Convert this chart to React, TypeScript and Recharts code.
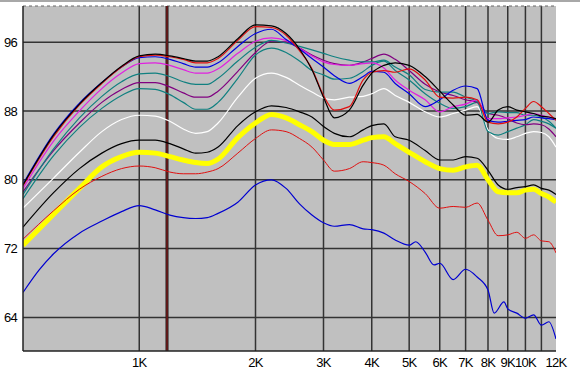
import {
  LineChart,
  Line,
  XAxis,
  YAxis,
  CartesianGrid,
  ReferenceLine,
} from 'recharts'

// frequencies (Hz) shared by most curves
const freqs = [
  500, 600, 700, 800, 900, 1000, 1100, 1200, 1300, 1400, 1500, 1600, 1800, 2000,
  2200, 2400, 2600, 2800, 3000, 3200, 3500, 3800, 4000, 4300, 4600, 5000, 5500,
  6000, 6500, 7000, 7500, 8000, 8500, 9000, 9500, 10000, 10500, 11000, 11500, 12000,
]

const blackTop = [
  79.4, 85.2, 88.8, 91.3, 93.2, 94.4, 94.6, 94.4, 94.1, 93.8, 93.8, 94.3, 96.4, 98.0,
  97.9, 97.0, 95.2, 92.8, 89.6, 87.2, 88.1, 91.0, 92.4, 93.3, 93.6, 93.3, 92.0,
  90.3, 88.7, 87.5, 87.6, 86.7, 88.1, 88.5, 88.1, 87.9, 87.7, 87.4, 87.3, 87.1,
]
const redTop = [
  79.3, 85.0, 88.7, 91.2, 93.1, 94.3, 94.5, 94.3, 94.0, 93.6, 93.6, 94.1, 96.2, 97.8,
  97.7, 96.8, 95.0, 92.9, 89.8, 88.1, 88.5, 91.6, 92.5, 92.7, 92.5, 92.9, 91.6,
  89.6, 89.5, 89.6, 89.3, 86.7, 86.5, 86.7, 87.3, 88.3, 89.1, 88.5, 87.7, 86.9,
]
const blueTop = [
  79.5, 85.3, 88.9, 91.3, 93.1, 94.2, 94.3, 94.0, 93.5, 93.1, 93.1, 93.6, 95.5, 97.0,
  97.5, 96.3, 95.2, 94.1, 93.1, 92.1, 91.2, 92.0, 92.6, 92.5, 91.2, 90.0, 88.5,
  89.3, 90.4, 90.9, 90.6, 86.9, 86.7, 86.8, 86.9, 87.0, 87.3, 87.2, 87.1, 87.0,
]
const magenta = [
  79.0, 84.5, 88.0, 90.6, 92.4, 93.5, 93.6, 93.3, 92.8, 92.4, 92.4, 92.9, 94.7, 96.1,
  96.5, 96.2, 95.3, 94.4, 93.7, 93.4, 93.3, 93.5, 93.6, 93.0, 91.6, 90.4, 89.3,
  87.9, 88.5, 88.8, 89.3, 87.1, 87.1, 87.2, 87.3, 87.5, 87.7, 87.5, 87.3, 87.1,
]
const tealA = [
  78.3, 83.6, 87.2, 89.7, 91.4, 92.3, 92.4, 92.0, 91.4, 91.1, 91.1, 91.8, 93.8, 95.4,
  96.2, 95.9, 95.5, 95.1, 94.7, 94.3, 93.9, 93.7, 93.7, 93.9, 93.1, 92.2, 90.5,
  90.2, 90.2, 89.6, 89.1, 87.7, 87.9, 87.8, 87.8, 87.5, 87.5, 87.3, 86.8, 86.0,
]
const purple = [
  78.6, 83.4, 86.6, 89.0, 90.5, 91.3, 91.3, 90.8, 90.1, 89.6, 89.6, 90.3, 92.6, 94.8,
  96.1, 96.0, 95.3, 94.5, 93.9, 93.5, 93.3, 93.7, 94.1, 94.6, 94.0, 92.7, 91.1,
  90.2, 89.8, 89.3, 89.0, 87.7, 87.5, 87.1, 86.6, 86.4, 86.5, 86.4, 85.9, 85.0,
]
const tealB = [
  77.8, 82.8, 86.1, 88.3, 89.8, 90.6, 90.5, 89.9, 89.0, 88.2, 88.2, 89.0, 91.8, 94.5,
  95.3, 94.8, 93.8, 92.7, 92.2, 91.7, 91.8, 92.6, 93.3, 93.8, 92.7, 91.6, 90.0,
  88.9, 88.3, 88.5, 89.0, 85.6, 85.2, 85.6, 86.0, 86.4, 87.0, 86.8, 86.5, 86.0,
]
const white = [
  76.7, 80.2, 83.2, 85.6, 87.0, 87.5, 87.4, 86.8, 85.9, 85.4, 85.6, 86.6, 89.6, 91.8,
  92.4, 91.9, 91.0, 90.2, 89.5, 89.3, 89.6, 89.7, 90.0, 90.6, 89.8, 89.0, 87.9,
  87.3, 87.7, 88.1, 88.5, 85.8, 84.8, 84.7, 85.0, 85.4, 85.6, 85.5, 85.0, 83.8,
]
const blackMid = [
  74.5, 78.5, 81.3, 83.1, 84.2, 84.6, 84.6, 84.2, 83.6, 83.1, 83.2, 83.8, 86.3, 87.9,
  88.6, 88.4, 87.9, 87.3, 86.2, 85.4, 85.0, 85.8, 86.3, 86.5, 85.0, 84.6, 83.4,
  82.3, 82.3, 82.7, 82.5, 81.1, 79.4, 78.9, 79.1, 79.2, 79.4, 79.0, 78.8, 78.3,
]
const yellow = [
  72.4, 76.0, 79.0, 81.5, 82.7, 83.2, 83.1, 82.7, 82.3, 82.0, 81.9, 82.4, 84.9, 86.6,
  87.6, 87.2, 86.4, 85.6, 84.6, 84.1, 84.1, 84.6, 84.9, 85.0, 84.2, 83.2, 82.1,
  81.3, 81.1, 81.5, 81.7, 80.0, 78.6, 78.5, 78.5, 78.8, 78.9, 78.4, 78.0, 77.4,
]
const redLow = [
  73.1, 76.4, 78.9, 80.4, 81.3, 81.6, 81.4, 80.9, 80.7, 80.7, 80.9, 81.3, 83.1, 84.8,
  85.8, 85.6, 84.8, 83.8, 82.3, 81.0, 81.3, 82.1, 82.0, 81.7, 80.7, 79.8, 78.4,
  76.7, 76.9, 76.8, 77.3, 75.3, 73.5, 73.6, 73.9, 73.2, 73.6, 72.9, 72.8, 71.5,
]

// the lowest blue curve is more jagged, so it has its own frequency list
const blueLowFreqs = [
  500, 550, 600, 700, 800, 900, 1000, 1100, 1200, 1300, 1400, 1500, 1600, 1800, 2000,
  2200, 2400, 2600, 2800, 3000, 3200, 3500, 3800, 4000, 4300, 4600, 5000, 5200, 5500,
  5800, 6000, 6500, 7000, 7500, 8000, 8300, 8800, 9000, 9500, 10000, 10500, 11000,
  11500, 12000,
]
const blueLow = [
  66.9, 69.5, 71.4, 73.8, 75.2, 76.3, 77.0, 76.5, 75.9, 75.6, 75.5, 75.6, 76.1, 77.4,
  79.4, 80.0, 79.0, 77.2, 75.9, 75.0, 74.6, 74.8, 74.3, 74.2, 73.8, 73.0, 72.4, 72.8,
  71.6, 70.1, 70.3, 68.4, 69.6, 68.7, 67.2, 64.5, 65.8, 65.0, 64.5, 63.9, 64.3, 63.1,
  63.5, 61.5,
]

const xTicks = [1000, 2000, 3000, 4000, 5000, 6000, 7000, 8000, 9000, 10000, 11000, 12000]
const gridFreqs = [1000, 2000, 3000, 4000, 5000, 6000, 7000, 8000, 9000, 10000, 11000]
const yTicks = [64, 72, 80, 88, 96]
const markerFreq = 1180

const curves: { name: string; values: number[] }[] = [
  { name: 'yellow', values: yellow },
  { name: 'redLow', values: redLow },
  { name: 'blackMid', values: blackMid },
  { name: 'white', values: white },
  { name: 'tealB', values: tealB },
  { name: 'purple', values: purple },
  { name: 'tealA', values: tealA },
  { name: 'magenta', values: magenta },
  { name: 'blueTop', values: blueTop },
  { name: 'redTop', values: redTop },
  { name: 'blackTop', values: blackTop },
]

const styles: Record<string, { stroke: string; width: number }> = {
  yellow: { stroke: '#ffff00', width: 5 },
  redLow: { stroke: '#e01010', width: 1 },
  blackMid: { stroke: '#000000', width: 1.2 },
  white: { stroke: '#ffffff', width: 1.2 },
  tealB: { stroke: '#108080', width: 1.2 },
  purple: { stroke: '#800080', width: 1.2 },
  tealA: { stroke: '#108080', width: 1.2 },
  magenta: { stroke: '#e020e0', width: 1.2 },
  blueTop: { stroke: '#0000e0', width: 1.2 },
  redTop: { stroke: '#e01010', width: 1.2 },
  blackTop: { stroke: '#000000', width: 1.2 },
}

const data = freqs.map((f, i) => {
  const row: Record<string, number> = { f }
  curves.forEach((c) => (row[c.name] = c.values[i]))
  return row
})
const blueLowData = blueLowFreqs.map((f, i) => ({ f, v: blueLow[i] }))

const font = {
  fontFamily: '"Liberation Sans", Arial, sans-serif',
  fontSize: 13,
  letterSpacing: -0.7,
  fill: '#000',
}

export default function App() {
  return (
    <div style={{ position: 'absolute', left: 0, top: 0, width: 580, height: 370, background: '#fff' }}>
      <div style={{ position: 'absolute', left: 0, top: 0, width: 580, height: 2, background: '#a8a8a8' }} />
      <LineChart
        width={580}
        height={370}
        data={data}
        margin={{ top: 6, right: 24, left: 0, bottom: 0 }}
      >
        <CartesianGrid
          fill="#c0c0c0"
          stroke="#333"
          strokeWidth={1.5}
          verticalValues={gridFreqs}
          horizontalValues={yTicks}
        />
        <XAxis
          dataKey="f"
          type="number"
          scale="log"
          domain={[500, 12000]}
          allowDataOverflow
          ticks={xTicks}
          tickFormatter={(v: number) => (v === 11000 ? '' : `${v / 1000}K`)}
          height={19}
          tickSize={0}
          tickMargin={7}
          tick={font}
          axisLine={{ stroke: '#222', strokeWidth: 1.5 }}
          interval={0}
        />
        <YAxis
          type="number"
          domain={[60.1, 100.2]}
          allowDataOverflow
          ticks={yTicks}
          width={23}
          tickSize={0}
          tickMargin={6}
          tick={font}
          axisLine={{ stroke: '#222', strokeWidth: 1.5 }}
          interval={0}
        />
        <ReferenceLine y={100.2} stroke="#666" strokeDasharray="3 3" />
        <ReferenceLine x={markerFreq} stroke="#1a1a1a" strokeWidth={3} />
        <ReferenceLine x={markerFreq} stroke="#a01818" strokeWidth={1} />
        <Line
          data={blueLowData}
          dataKey="v"
          type="monotone"
          stroke="#0000d0"
          strokeWidth={1.2}
          dot={false}
          isAnimationActive={false}
        />
        {curves.map((c) => (
          <Line
            key={c.name}
            dataKey={c.name}
            type="monotone"
            stroke={styles[c.name].stroke}
            strokeWidth={styles[c.name].width}
            dot={false}
            isAnimationActive={false}
          />
        ))}
      </LineChart>
    </div>
  )
}
